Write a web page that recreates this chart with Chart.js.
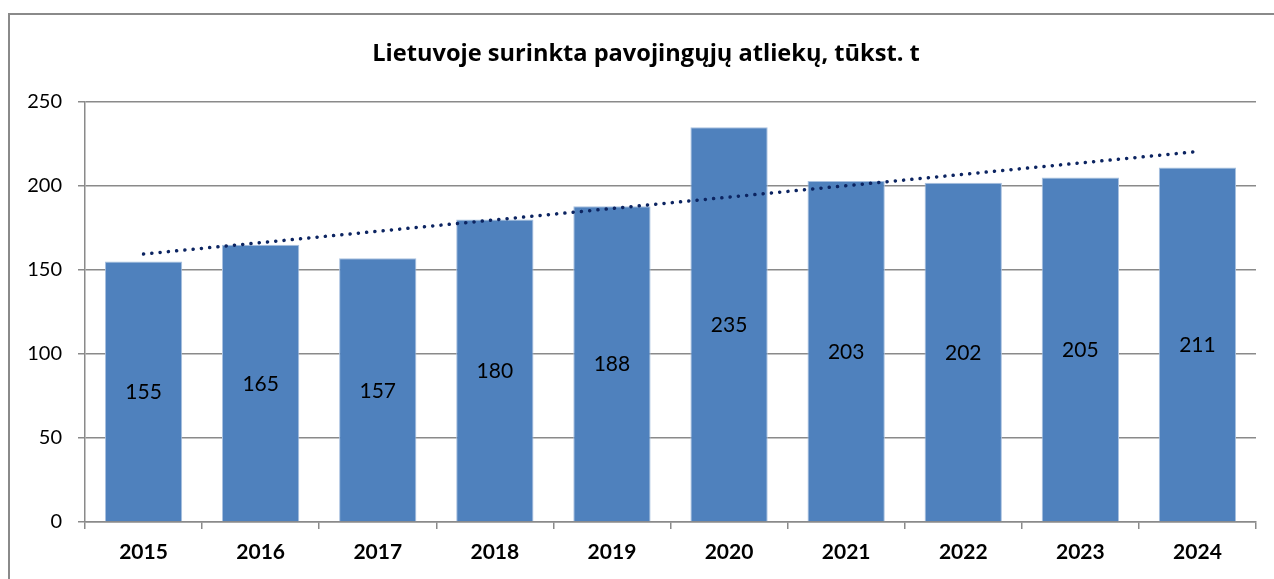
<!DOCTYPE html>
<html lang="lt">
<head>
<meta charset="UTF-8">
<title>Lietuvoje surinkta pavojingųjų atliekų, tūkst. t</title>
<script src="https://cdn.jsdelivr.net/npm/chart.js"></script>
<style>
  html, body { margin: 0; padding: 0; background: #fff; }
  #wrap { width: 1274px; height: 579px; position: relative; }
</style>
</head>
<body>
<div id="wrap"><canvas id="wasteChart"></canvas></div>
<script>
// data
const years = ['2015', '2016', '2017', '2018', '2019', '2020', '2021', '2022', '2023', '2024'];
const collected = [155, 165, 157, 180, 188, 235, 203, 202, 205, 211];
// dotted trend line: only its two ends, as they appear in the picture
const trendEnds = [159.5, null, null, null, null, null, null, null, null, 220.5];
const yTicks = [0, 50, 100, 150, 200, 250];
const chartTitle = 'Lietuvoje surinkta pavojingųjų atliekų, tūkst. t';

const FONT = 'Lato, "Open Sans", sans-serif';
const GRID = '#8a8a8a';

// grey frame round the whole chart (right and bottom edges run off the page),
// plus the title, which sits a little right of the canvas centre
const framePlugin = {
    id: 'frame',
    beforeDraw(chart) {
        const c = chart.ctx;
        c.save();
        c.fillStyle = '#fff';
        c.fillRect(0, 0, chart.width, chart.height);
        c.strokeStyle = GRID;
        c.lineWidth = 2;
        c.strokeRect(9, 14, chart.width + 20, chart.height + 20);
        c.font = 'bold 23.6px "Open Sans", Lato, sans-serif';
        c.fillStyle = '#000';
        c.textAlign = 'center';
        c.textBaseline = 'middle';
        c.fillText(chartTitle, 646, 54);
        c.restore();
    }
};

// value written in the middle of each bar
const barLabels = {
    id: 'barLabels',
    afterDatasetsDraw(chart) {
        const meta = chart.getDatasetMeta(0);
        const c = chart.ctx;
        c.save();
        c.font = '21px ' + FONT;
        c.fillStyle = '#000';
        c.textAlign = 'center';
        c.textBaseline = 'middle';
        meta.data.forEach((bar, i) => {
            c.fillText(collected[i], bar.x, (bar.y + bar.base) / 2 + 1);
        });
        c.restore();
    }
};

const ctx = document.getElementById('wasteChart').getContext('2d');
new Chart(ctx, {
    type: 'bar',
    data: {
        labels: years,
        datasets: [{
            data: collected,
            backgroundColor: '#4f81bd',
            borderColor: '#a9c1e0',
            borderWidth: 1,
            barPercentage: 0.66,
            categoryPercentage: 1,
            order: 2
        }, {
            type: 'line',
            data: trendEnds,
            spanGaps: true,
            borderColor: '#0c2461',
            borderWidth: 3.5,
            borderDash: [0.1, 8.2],
            borderCapStyle: 'round',
            pointRadius: 0,
            fill: false,
            order: 1
        }]
    },
    options: {
        responsive: true,
        maintainAspectRatio: false,
        animation: false,
        layout: { padding: { left: 0, right: 18, top: 102, bottom: 0 } },
        plugins: {
            legend: { display: false },
            tooltip: { enabled: false },
            title: { display: false }
        },
        scales: {
            x: {
                afterFit(scale) { scale.height = 57; },
                grid: { drawOnChartArea: false, color: GRID, lineWidth: 1.5, tickLength: 7 },
                border: { color: GRID, width: 1.5 },
                ticks: {
                    color: '#000',
                    padding: 11,
                    font: { family: FONT, size: 21, weight: 'bold' }
                }
            },
            y: {
                min: yTicks[0],
                max: yTicks[yTicks.length - 1],
                afterFit(scale) { scale.width = 85; },
                afterBuildTicks(scale) { scale.ticks = yTicks.map(v => ({ value: v })); },
                grid: { color: GRID, lineWidth: 1.5, tickLength: 7 },
                border: { color: GRID, width: 1.5 },
                ticks: {
                    color: '#000',
                    padding: 16,
                    font: { family: FONT, size: 20 }
                }
            }
        }
    },
    plugins: [framePlugin, barLabels]
});
</script>
</body>
</html>
